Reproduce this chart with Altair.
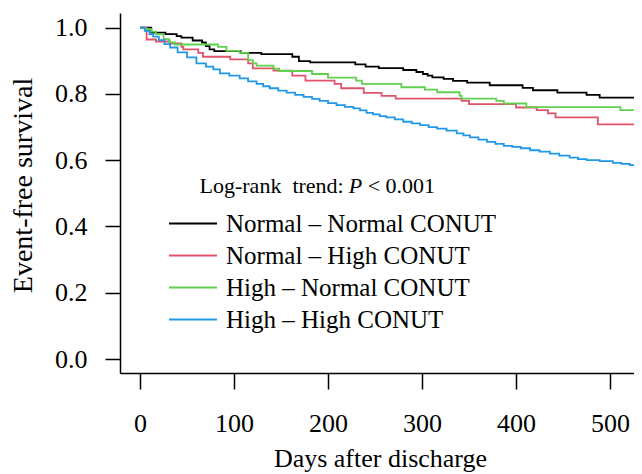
import altair as alt
import pandas as pd

FONT = "Liberation Serif"

groups = ["Normal – Normal CONUT", "Normal – High CONUT", "High – Normal CONUT", "High – High CONUT"]
colors = ["#000000", "#DF536B", "#61D04F", "#2297E6"]

nn_days = [0, 12, 27, 39, 44, 56, 66, 70, 74, 79, 107, 129, 162, 169, 181, 229, 240, 254, 280, 294, 301, 306, 311, 323, 333, 348, 372, 407, 418, 444, 475, 489, 526]
nn_surv = [1.0, .985, .980, .974, .970, .961, .955, .944, .934, .929, .924, .920, .912, .899, .895, .889, .882, .878, .872, .866, .860, .855, .850, .845, .839, .834, .826, .818, .811, .804, .797, .789, .789]

nh_days = [0, 7, 17, 32, 44, 46, 62, 67, 96, 115, 120, 142, 162, 176, 207, 214, 238, 257, 272, 342, 350, 400, 422, 434, 442, 487, 526]
nh_surv = [1.0, .964, .958, .952, .942, .934, .924, .912, .904, .892, .877, .870, .855, .840, .830, .817, .803, .794, .786, .779, .769, .759, .751, .741, .729, .708, .708]

hn_days = [0, 5, 12, 17, 25, 31, 37, 83, 92, 106, 115, 120, 124, 142, 148, 183, 200, 230, 236, 278, 303, 316, 340, 342, 379, 387, 411, 511, 526]
hn_surv = [1.0, .995, .988, .980, .965, .955, .949, .942, .930, .924, .902, .892, .885, .876, .869, .860, .849, .840, .830, .820, .813, .805, .795, .786, .779, .771, .760, .751, .751]

hh_days = [0, 5, 10, 14, 20, 26, 32, 40, 50, 60, 70, 78, 85, 95, 106, 115, 124, 131, 138, 147, 156, 165, 174, 183, 191, 200, 209, 218, 227, 234, 241, 248, 255, 262, 271, 280, 289, 298, 307, 316, 326, 337, 344, 351, 360, 369, 378, 387, 396, 405, 415, 425, 436, 446, 457, 466, 475, 489, 503, 512, 521, 526]
hh_surv = [1.0, .99, .98, .973, .962, .95, .94, .925, .91, .892, .882, .874, .862, .855, .847, .838, .830, .823, .817, .810, .804, .797, .791, .785, .779, .772, .766, .761, .756, .750, .743, .738, .733, .729, .723, .716, .711, .706, .700, .695, .689, .681, .675, .669, .662, .655, .649, .643, .640, .636, .630, .626, .620, .614, .608, .603, .600, .597, .592, .589, .585, .583]

x_ticks = [0, 100, 200, 300, 400, 500]
y_ticks = [0.0, 0.2, 0.4, 0.6, 0.8, 1.0]

series = [(nn_days, nn_surv), (nh_days, nh_surv), (hn_days, hn_surv), (hh_days, hh_surv)]
rows = []
for order, (g, (d, s)) in enumerate(zip(groups, series)):
    for di, si in zip(d, s):
        rows.append({"group": g, "order": order, "day": di, "surv": si})
df = pd.DataFrame(rows)

xscale = alt.Scale(domain=[-21.3, 525.5], nice=False, zero=False)
yscale = alt.Scale(domain=[-0.042, 1.044], nice=False, zero=False)

lines = alt.Chart(df).mark_line(interpolate="step-after", strokeWidth=1.8, clip=True).encode(
    x=alt.X("day:Q", scale=xscale,
            axis=alt.Axis(values=x_ticks, title="Days after discharge", tickSize=16,
                          labelPadding=21, titleX=260, titleY=93, titleAlign="center",
                          titleBaseline="alphabetic")),
    y=alt.Y("surv:Q", scale=yscale,
            axis=alt.Axis(values=y_ticks, format=".1f", title="Event-free survival", tickSize=15,
                          labelPadding=18, titleX=-89, titleY=172, titleAlign="center",
                          titleBaseline="alphabetic", titleAngle=-90, titleFontSize=28)),
    color=alt.Color("group:N", scale=alt.Scale(domain=groups, range=colors),
                    legend=alt.Legend(title=None, orient="none", legendX=60.5, legendY=198,
                                      symbolType="M-4,0L4,0", symbolSize=144,
                                      symbolStrokeWidth=1.8, labelFont=FONT, labelFontSize=25,
                                      labelColor="black", labelOffset=20.5, labelLimit=500,
                                      rowPadding=6, padding=0)),
    order=alt.Order("order:Q"),
)

ann_x = 222
ann_y = 0.5
ann1 = alt.Chart().mark_text(font=FONT, fontSize=22, align="right", baseline="alphabetic",
                             color="black", dx=-5).encode(
    x=alt.datum(ann_x), y=alt.datum(ann_y), text=alt.value("Log-rank\u00a0 trend:"))
ann2 = alt.Chart().mark_text(font=FONT, fontSize=22, align="left", baseline="alphabetic",
                             color="black", fontStyle="italic").encode(
    x=alt.datum(ann_x), y=alt.datum(ann_y), text=alt.value("P"))
ann3 = alt.Chart().mark_text(font=FONT, fontSize=22, align="left", baseline="alphabetic",
                             color="black", dx=19).encode(
    x=alt.datum(ann_x), y=alt.datum(ann_y), text=alt.value("< 0.001"))

chart = alt.layer(lines, ann1, ann2, ann3).properties(
    width=514, height=360,
    padding={"left": 112, "top": 5, "right": 0, "bottom": 100},
    autosize=alt.AutoSizeParams(type="none"),
).configure_view(stroke=None).configure_axis(
    grid=False, labelFont=FONT, titleFont=FONT, labelFontSize=26, titleFontSize=26,
    labelColor="black", titleColor="black", titleFontWeight="normal",
    domainColor="black", tickColor="black", domainWidth=1.5, tickWidth=1.5,
)

chart.save("out.html", embed_options={"renderer": "svg", "actions": False})
